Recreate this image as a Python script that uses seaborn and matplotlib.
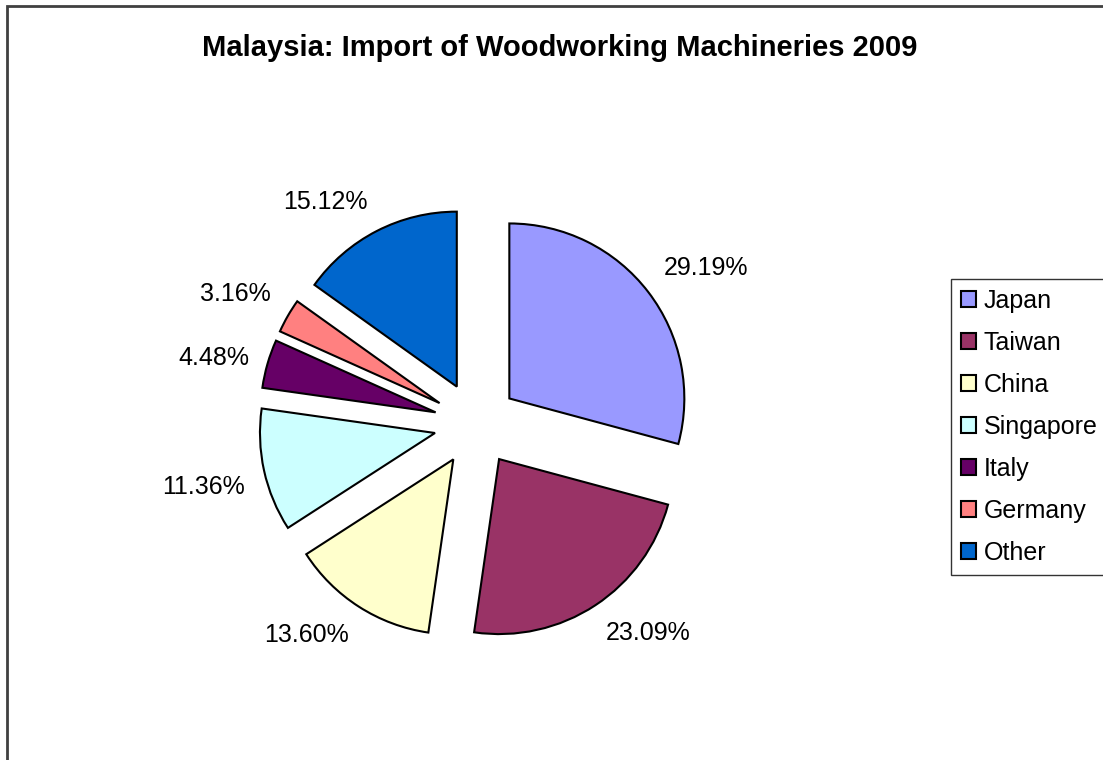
import numpy as np
import seaborn as sns
from matplotlib import pyplot as plt
from matplotlib.patches import Rectangle

countries = ["Japan", "Taiwan", "China", "Singapore", "Italy", "Germany", "Other"]
shares = [29.19, 23.09, 13.60, 11.36, 4.48, 3.16, 15.12]
slice_colors = ["#9999FF", "#993366", "#FFFFCC", "#CCFFFF", "#660066", "#FF8080", "#0066CC"]

sns.set_theme(style="white")
plt.rcParams["font.family"] = ["Liberation Sans", "DejaVu Sans"]
plt.rcParams["text.color"] = "black"

W, H = 1103, 760
fig = plt.figure(figsize=(W / 100, H / 100), dpi=100)
fig.patch.set_facecolor("white")

# axes in pixel units so the pie can be placed like the original
ax = fig.add_axes([0, 0, 1, 1])
palette = sns.color_palette(slice_colors)
wedges, texts = ax.pie(
    shares,
    labels=[f"{s:.2f}%" for s in shares],
    colors=palette,
    startangle=90,
    counterclock=False,
    center=(476, H - 424),
    radius=175,
    explode=[42] * len(shares),
    labeldistance=1.11,
    wedgeprops=dict(edgecolor="black", linewidth=1.5),
    textprops=dict(fontsize=18, color="black"),
)
# Excel-style label anchoring: the corner of the label box nearest the slice
for w, t in zip(wedges, texts):
    a = np.deg2rad((w.theta1 + w.theta2) / 2)
    t.set_ha("left" if np.cos(a) > 0 else "right")
    s = np.sin(a)
    if s > 0.4:
        t.set_va("bottom")
    elif s < -0.15:
        t.set_va("top")
    else:
        t.set_va("center")

ax.set_xlim(0, W)
ax.set_ylim(0, H)
ax.set_aspect("equal")
ax.axis("off")

fig.text(560 / W, 1 - 48 / H, "Malaysia: Import of Woodworking Machineries 2009",
         ha="center", va="center", fontsize=21, fontweight="bold", color="black")

leg = fig.legend(
    wedges, countries,
    loc="upper left", bbox_to_anchor=(951 / W, 1 - 279 / H),
    fontsize=18, frameon=True, fancybox=False, shadow=False,
    handlelength=0.6, handleheight=0.6, handletextpad=0.3,
    labelspacing=0.72, borderpad=0.4, borderaxespad=0,
)
leg.get_frame().set_edgecolor("black")
leg.get_frame().set_linewidth(1.0)
for h in leg.legend_handles:
    h.set_linewidth(1.5)
for t in leg.get_texts():
    t.set_color("black")

# chart-area border (left and top sides visible)
fig.patches.append(Rectangle((7 / W, -0.1), 2, 1.1 - 6 / H, transform=fig.transFigure,
                             fill=False, edgecolor="#404040", linewidth=2))

fig.savefig("out.png", dpi=100)
